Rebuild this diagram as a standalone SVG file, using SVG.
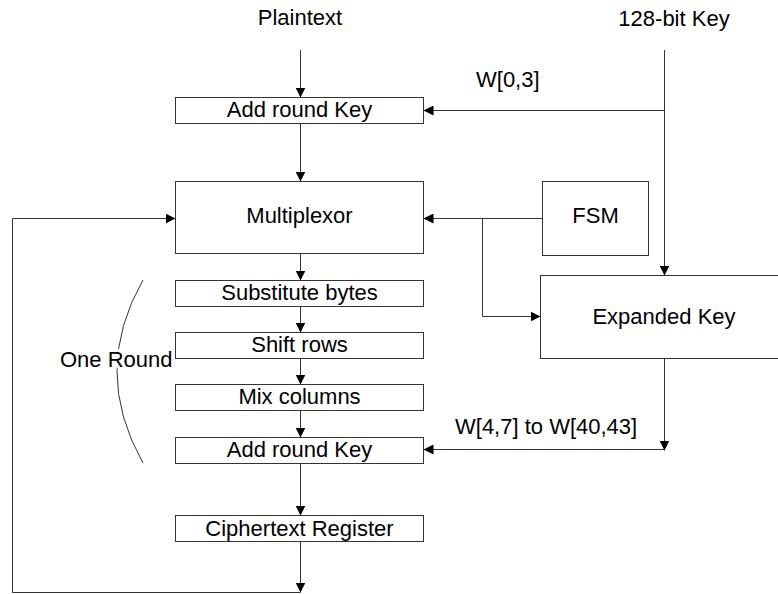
<svg xmlns="http://www.w3.org/2000/svg" width="778" height="594" viewBox="0 0 778 594">
<defs>
<marker id="ah" markerUnits="userSpaceOnUse" markerWidth="10" markerHeight="10" refX="10" refY="5" orient="auto" viewBox="0 0 10 10">
<path d="M0,0 L10,5 L0,10 z" fill="#000"/>
</marker>
<style>
.box{fill:#fff;stroke:#333;stroke-width:1}
.ln{fill:none;stroke:#333;stroke-width:1}
.ar{marker-end:url(#ah)}
text{font-family:"Liberation Sans",Arial,sans-serif;font-size:22px;fill:#000}
.c{text-anchor:middle}
</style>
</defs>
<rect width="778" height="594" fill="#fff"/>
<g id="connectors">
<path class="ln ar" d="M300.5,50 V97.5"/>
<path class="ln ar" d="M664.5,50 V275.5"/>
<path class="ln ar" d="M664.5,110.5 H423.5"/>
<path class="ln ar" d="M300.5,123.5 V181.5"/>
<path class="ln ar" d="M542.5,218.5 H423.5"/>
<path class="ln ar" d="M482.5,218.5 V316.5 H540.5"/>
<path class="ln ar" d="M300.5,253.5 V280.5"/>
<path class="ln ar" d="M300.5,306.5 V332.5"/>
<path class="ln ar" d="M300.5,358.5 V384.5"/>
<path class="ln ar" d="M300.5,410.5 V437.5"/>
<path class="ln ar" d="M300.5,463.5 V515.5"/>
<path class="ln ar" d="M300.5,541.5 V592.5"/>
<path class="ln ar" d="M664.5,358.5 V450.5"/>
<path class="ln ar" d="M664.5,449.5 H423.5"/>
<path class="ln ar" d="M300.5,592.5 H12.5 V218.5 H175.5"/>
</g>
<g id="labels">
<text class="c" x="300" y="25">Plaintext</text>
<text class="c" x="674" y="26">128-bit Key</text>
<text x="476" y="87">W[0,3]</text>
<text x="455" y="434">W[4,7] to W[40,43]</text>
</g>
<g id="one-round">
<path class="ln" d="M143,280 Q91,371 143,463"/>
<text x="60" y="367" stroke="#fff" stroke-width="6" paint-order="stroke">One Round</text>
</g>
<g id="add-round-key-1"><rect class="box" x="175.5" y="97.5" width="248" height="26"/><text class="c" x="299.5" y="117">Add round Key</text></g>
<g id="multiplexor"><rect class="box" x="175.5" y="181.5" width="248" height="72"/><text class="c" x="299.5" y="223">Multiplexor</text></g>
<g id="fsm"><rect class="box" x="542.5" y="181.5" width="106" height="74"/><text class="c" x="595.5" y="223">FSM</text></g>
<g id="expanded-key"><rect class="box" x="540.5" y="275.5" width="250" height="83"/><text class="c" x="664" y="324">Expanded Key</text></g>
<g id="substitute-bytes"><rect class="box" x="175.5" y="280.5" width="248" height="26"/><text class="c" x="299.5" y="300">Substitute bytes</text></g>
<g id="shift-rows"><rect class="box" x="175.5" y="332.5" width="248" height="26"/><text class="c" x="299.5" y="352">Shift rows</text></g>
<g id="mix-columns"><rect class="box" x="175.5" y="384.5" width="248" height="26"/><text class="c" x="299.5" y="404">Mix columns</text></g>
<g id="add-round-key-2"><rect class="box" x="175.5" y="437.5" width="248" height="26"/><text class="c" x="299.5" y="457">Add round Key</text></g>
<g id="ciphertext-register"><rect class="box" x="175.5" y="515.5" width="248" height="26"/><text class="c" x="299.5" y="536">Ciphertext Register</text></g>
</svg>
